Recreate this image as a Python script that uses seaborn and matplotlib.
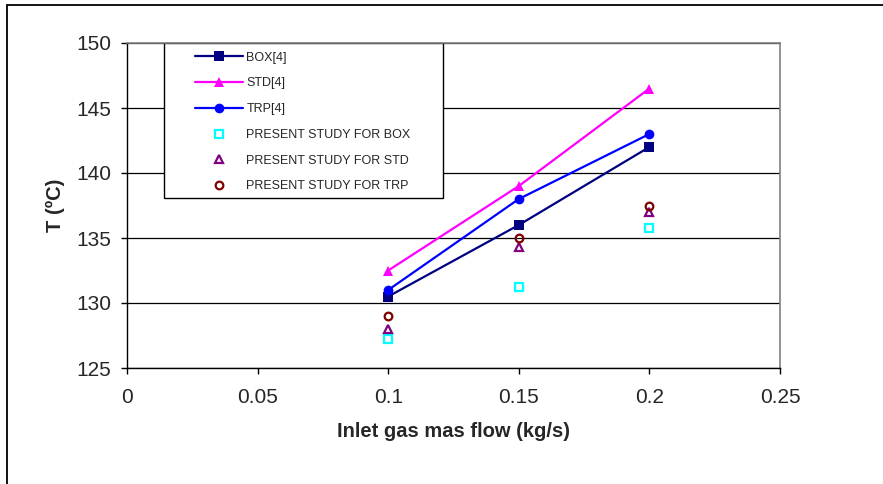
import numpy as np
import pandas as pd
import matplotlib
matplotlib.use("Agg")
import matplotlib.pyplot as plt
import seaborn as sns
from matplotlib.patches import Rectangle
from matplotlib.legend_handler import HandlerLine2D

# data
flow = [0.1, 0.15, 0.2]
box_ref = [130.5, 136.0, 142.0]
std_ref = [132.5, 139.0, 146.5]
trp_ref = [131.0, 138.0, 143.0]
box_present = [127.2, 131.2, 135.8]
std_present = [128.0, 134.3, 137.0]
trp_present = [129.0, 135.0, 137.5]

sns.set_style("white")
plt.rcParams['font.family'] = ['Liberation Sans', 'DejaVu Sans']


class ShiftedLine(HandlerLine2D):
    # draw the legend line only on the right part of the handle box
    def create_artists(self, legend, orig_handle, xdescent, ydescent,
                       width, height, fontsize, trans):
        shift = 18
        return super().create_artists(legend, orig_handle, xdescent - shift, ydescent,
                                      width - shift, height, fontsize, trans)


fig = plt.figure(figsize=(8.83, 4.84), dpi=100)
ax = fig.add_axes([127 / 883, 1 - 368 / 484, 653 / 883, 325 / 484])

# reference curves
sns.lineplot(x=flow, y=box_ref, ax=ax, color="#000080", marker="s", markersize=6.5,
             markeredgewidth=0, linewidth=1.6, label="BOX[4]")
sns.lineplot(x=flow, y=std_ref, ax=ax, color="#FF00FF", marker="^", markersize=7.5,
             markeredgewidth=0, linewidth=1.6, label="STD[4]")
sns.lineplot(x=flow, y=trp_ref, ax=ax, color="#0000FF", marker="o", markersize=7,
             markeredgewidth=0, linewidth=1.6, label="TRP[4]")

# present study points
sns.lineplot(x=flow, y=box_present, ax=ax, linestyle="", marker="s", markersize=5.5,
             markerfacecolor="none", markeredgecolor="#00FFFF", markeredgewidth=1.6,
             color="#00FFFF", label="PRESENT STUDY FOR BOX")
sns.lineplot(x=flow, y=std_present, ax=ax, linestyle="", marker="^", markersize=6,
             markerfacecolor="none", markeredgecolor="#800080", markeredgewidth=1.6,
             color="#800080", label="PRESENT STUDY FOR STD")
sns.lineplot(x=flow, y=trp_present, ax=ax, linestyle="", marker="o", markersize=5.5,
             markerfacecolor="none", markeredgecolor="#800000", markeredgewidth=1.6,
             color="#800000", label="PRESENT STUDY FOR TRP")

ax.set_xlim(0, 0.25)
ax.set_ylim(125, 150)
ax.set_xticks(np.arange(0, 0.2501, 0.05))
ax.set_xticklabels(["0", "0.05", "0.1", "0.15", "0.2", "0.25"])
ax.set_yticks(np.arange(125, 150.1, 5))

ax.yaxis.grid(True, color="black", linewidth=0.9)
ax.xaxis.grid(False)
ax.set_axisbelow(True)

for side in ["left", "bottom"]:
    ax.spines[side].set_color("black")
    ax.spines[side].set_linewidth(1.0)
for side in ["top", "right"]:
    ax.spines[side].set_color("#808080")
    ax.spines[side].set_linewidth(1.2)

ax.tick_params(axis="both", which="major", direction="out", length=4.3, width=1,
               color="black", labelsize=15, bottom=True, left=True)
ax.tick_params(axis="y", pad=7)
ax.tick_params(axis="x", pad=10)

ax.set_xlabel("Inlet gas mas flow (kg/s)", fontsize=14.5, fontweight="bold")
ax.set_ylabel("T (ºC)", fontsize=14.5, fontweight="bold")
ax.xaxis.set_label_coords(0.5, (368 - 422) / 325)
ax.yaxis.set_label_coords((65 - 127) / 653, 0.5)

handles, labels = ax.get_legend_handles_labels()
leg = ax.legend(handles, labels, loc="upper left",
                bbox_to_anchor=((164 - 127) / 653, 1 - 3 / 325), borderaxespad=0,
                frameon=False, fontsize=9, handlelength=5.9, handletextpad=0.24,
                borderpad=0.45, labelspacing=1.1,
                handler_map={h: ShiftedLine() for h in handles})
leg.set_zorder(6)

# legend border, white filled so the grid lines stop at it
ax.add_patch(Rectangle(((164 - 127) / 653, (368 - 198) / 325), (443 - 164) / 653,
                       (198 - 43) / 325, transform=ax.transAxes, facecolor="white",
                       edgecolor="black", linewidth=1.0, zorder=1.5, clip_on=False))

# outer chart frame
fig.patches.append(Rectangle((7 / 883, -0.1), 1.2, 1.1 - 5 / 484,
                             transform=fig.transFigure, fill=False,
                             edgecolor="black", linewidth=1.3))

fig.savefig("out.png", dpi=100)
